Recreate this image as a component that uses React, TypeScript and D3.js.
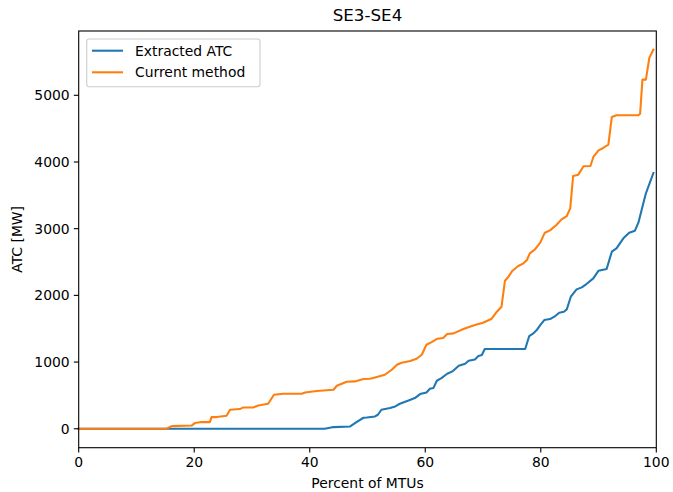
import React from "react";
import * as d3 from "d3";

const title = "SE3-SE4";
const xLabel = "Percent of MTUs";
const yLabel = "ATC [MW]";
const seriesNames = ["Extracted ATC", "Current method"];
const seriesColors = ["#1f77b4", "#ff7f0e"];
const xTicks = [0, 20, 40, 60, 80, 100];
const yTicks = [0, 1000, 2000, 3000, 4000, 5000];

const extractedX = [0, 42.6, 44.1, 47.0, 48.1, 49.3, 49.9, 51.3, 51.8, 52.4, 53.9, 54.8, 55.6, 57.1, 58.2, 59.1, 60.2, 60.8, 61.4, 62.0, 62.8, 63.8, 64.7, 65.8, 66.9, 67.5, 68.6, 69.2, 69.8, 70.3, 77.3, 78.0, 78.7, 79.3, 79.9, 80.6, 81.6, 82.5, 83.2, 84.0, 84.5, 85.2, 86.2, 87.1, 87.9, 89.1, 90.0, 91.4, 92.3, 93.1, 94.3, 95.3, 96.3, 96.9, 97.6, 98.2, 99.5];
const extractedY = [0, 0, 25, 35, 100, 165, 170, 185, 210, 285, 310, 335, 375, 425, 460, 520, 545, 600, 610, 720, 760, 825, 860, 945, 975, 1020, 1040, 1090, 1105, 1195, 1195, 1390, 1430, 1480, 1555, 1630, 1645, 1690, 1740, 1755, 1790, 1980, 2090, 2120, 2170, 2255, 2370, 2395, 2655, 2705, 2855, 2940, 2970, 3090, 3330, 3530, 3835];

const currentX = [0, 15.2, 16.1, 19.6, 20.1, 21.3, 22.7, 23.0, 23.9, 25.6, 26.2, 27.9, 28.5, 30.2, 31.1, 32.8, 33.8, 35.4, 38.6, 39.2, 41.2, 44.1, 44.7, 46.4, 47.8, 49.3, 50.4, 51.0, 53.0, 54.2, 55.1, 55.9, 57.4, 58.5, 59.4, 60.2, 61.1, 62.1, 63.1, 63.8, 64.9, 66.6, 67.7, 68.6, 70.0, 71.5, 72.4, 73.2, 73.8, 74.4, 75.1, 76.1, 77.0, 77.6, 78.1, 79.0, 79.9, 80.7, 81.6, 82.7, 83.6, 84.5, 85.1, 85.6, 86.5, 87.4, 88.6, 89.1, 90.0, 90.8, 91.7, 92.3, 93.1, 96.9, 97.2, 97.6, 98.2, 98.8, 99.5];
const currentY = [0, 0, 40, 50, 85, 100, 100, 175, 175, 195, 285, 295, 320, 320, 350, 375, 510, 525, 525, 545, 565, 585, 645, 705, 710, 745, 750, 760, 810, 885, 960, 990, 1015, 1050, 1110, 1260, 1300, 1350, 1360, 1420, 1430, 1495, 1530, 1555, 1590, 1650, 1755, 1830, 2220, 2280, 2370, 2440, 2480, 2530, 2630, 2690, 2790, 2940, 2975, 3055, 3140, 3190, 3305, 3790, 3810, 3935, 3940, 4075, 4175, 4210, 4260, 4675, 4700, 4700, 4725, 5235, 5235, 5565, 5685];

const W = 673;
const H = 492;
const left = 78.7;
const right = 656.3;
const top = 31;
const bottom = 447.7;
const font = "DejaVu Sans, sans-serif";

export default function App() {
  const x = d3.scaleLinear().domain([0, 100]).range([left, right]);
  const y = d3.scaleLinear().domain([-284, 5964]).range([bottom, top]);
  const line = d3
    .line<[number, number]>()
    .x((d) => x(d[0]))
    .y((d) => y(d[1]));
  const series = [
    extractedX.map((v, i) => [v, extractedY[i]] as [number, number]),
    currentX.map((v, i) => [v, currentY[i]] as [number, number]),
  ];
  return (
    <svg
      width={W}
      height={H}
      style={{ position: "absolute", left: 0, top: 0, background: "#fff" }}
      fontFamily={font}
    >
      <rect x={0} y={0} width={W} height={H} fill="#fff" />
      {series.map((s, i) => (
        <path
          key={i}
          d={line(s) || ""}
          fill="none"
          stroke={seriesColors[i]}
          strokeWidth={2.08}
          strokeLinejoin="round"
          strokeLinecap="square"
        />
      ))}
      <rect
        x={left}
        y={top}
        width={right - left}
        height={bottom - top}
        fill="none"
        stroke="#000"
        strokeWidth={1.1}
      />
      {xTicks.map((t) => (
        <g key={t}>
          <line x1={x(t)} x2={x(t)} y1={bottom} y2={bottom + 4.9} stroke="#000" strokeWidth={1.1} />
          <text x={x(t)} y={bottom + 19} textAnchor="middle" fontSize={13.9} fill="#000">
            {t}
          </text>
        </g>
      ))}
      {yTicks.map((t) => (
        <g key={t}>
          <line x1={left} x2={left - 4.9} y1={y(t)} y2={y(t)} stroke="#000" strokeWidth={1.1} />
          <text x={left - 9} y={y(t) + 5} textAnchor="end" fontSize={13.9} fill="#000">
            {t}
          </text>
        </g>
      ))}
      <text x={(left + right) / 2} y={21} textAnchor="middle" fontSize={16.7} fill="#000">
        {title}
      </text>
      <text x={(left + right) / 2} y={488} textAnchor="middle" fontSize={13.9} fill="#000">
        {xLabel}
      </text>
      <text
        transform={`translate(22,${(top + bottom) / 2}) rotate(-90)`}
        textAnchor="middle"
        fontSize={13.9}
        fill="#000"
      >
        {yLabel}
      </text>
      <rect x={86.7} y={39} width={173.3} height={47.7} rx={2.5} fill="#fff" fillOpacity={0.8} stroke="#ccc" strokeWidth={1.1} />
      {seriesNames.map((n, i) => (
        <g key={n}>
          <line x1={92} x2={123} y1={50.7 + i * 21.6} y2={50.7 + i * 21.6} stroke={seriesColors[i]} strokeWidth={2.08} />
          <text x={135} y={55.6 + i * 21.6} fontSize={13.9} fill="#000">
            {n}
          </text>
        </g>
      ))}
    </svg>
  );
}
